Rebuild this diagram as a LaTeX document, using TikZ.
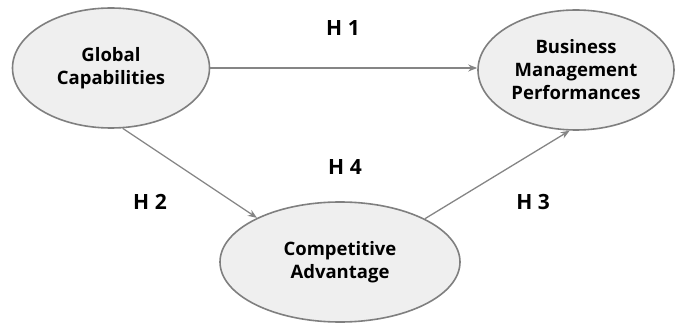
\documentclass[tikz,border=0pt]{standalone}
\usepackage{fontspec}
\setmainfont{Open Sans}
\usetikzlibrary{shapes.geometric,arrows.meta}
\definecolor{bubblefill}{HTML}{EFEFEF}
\definecolor{bubbleline}{HTML}{7F7F7F}
\definecolor{pathline}{HTML}{858585}
\tikzset{
	construct/.style={ellipse,draw=bubbleline,line width=1.6pt,fill=bubblefill,
		inner sep=0pt,align=center,font=\fontsize{18.5}{23}\selectfont\bfseries},
	hyp/.style={font=\fontsize{21}{24}\selectfont\bfseries},
	link/.style={draw=pathline,line width=1.3pt,-{Stealth[length=9pt,width=7pt]}}
}
\begin{document}
\begin{tikzpicture}[x=1pt,y=-1pt]
	\useasboundingbox (0,0) rectangle (680,323);
	\node[construct,minimum width=197pt,minimum height=120pt] at (111,68) (gc) {Global\\Capabilities};
	\node[construct,minimum width=196pt,minimum height=120pt] at (576,70) (bmp) {Business\\Management\\Performances};
	\node[construct,minimum width=240pt,minimum height=120pt] at (340,262) (ca) {Competitive\\Advantage};
	\node[hyp] at (343,28) (h1) {H 1};
	\node[hyp] at (150,202) (h2) {H 2};
	\node[hyp] at (533,202) (h3) {H 3};
	\node[hyp] at (345,167) (h4) {H 4};
	\path (gc.east) edge[link] (bmp.west |- gc.east)
	(gc.-79) edge[link] (ca.152)
	(ca.27) edge[link] (bmp.-96);
\end{tikzpicture}
\end{document}
